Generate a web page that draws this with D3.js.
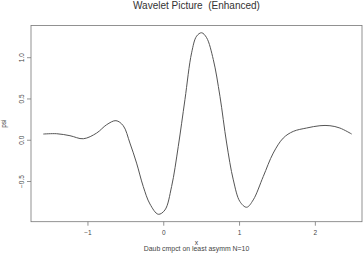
<!DOCTYPE html>
<html>
<head>
<meta charset="utf-8">
<script src="https://cdn.jsdelivr.net/npm/d3@7"></script>
<style>
  body { margin: 0; background: #fff; }
  svg { display: block; font-family: "Liberation Sans", Arial, sans-serif; }
  text { white-space: pre; }
</style>
</head>
<body>
<svg id="chart" width="364" height="261"></svg>
<script>
// wavelet curve
const xs = [-1.583, -1.407, -1.231, -1.055, -0.879, -0.747, -0.624, -0.528, -0.44, -0.352, -0.264, -0.176, -0.066, 0.022, 0.11, 0.198, 0.286, 0.374, 0.44, 0.506, 0.572, 0.66, 0.748, 0.836, 0.924, 1.012, 1.1, 1.187, 1.319, 1.451, 1.583, 1.715, 1.891, 2.067, 2.199, 2.33, 2.486];
const psi = [0.069, 0.073, 0.049, 0.012, 0.081, 0.182, 0.231, 0.17, -0.04, -0.283, -0.567, -0.778, -0.903, -0.851, -0.567, -0.081, 0.486, 1.053, 1.255, 1.296, 1.236, 0.972, 0.526, -0.04, -0.486, -0.75, -0.818, -0.729, -0.446, -0.162, 0.02, 0.101, 0.142, 0.17, 0.17, 0.142, 0.069];
const xTicks = [-1, 0, 1, 2];
const yTicks = [-0.5, 0.0, 0.5, 1.0];
const title = "Wavelet Picture  (Enhanced)";
const xLabel = "x";
const yLabel = "psi";
const subTitle = "Daub cmpct on least asymm N=10";

const svg = d3.select("#chart");
const box = {left: 31, right: 362, top: 25.5, bottom: 221.7};
const ink = "#444";

const x = d3.scaleLinear().domain([-1.745, 2.622]).range([box.left, box.right]);
const y = d3.scaleLinear().domain([-0.993, 1.384]).range([box.bottom, box.top]);

const data = xs.map((v, i) => ({x: v, y: psi[i]}));

// plot frame
svg.append("rect")
  .attr("x", box.left).attr("y", box.top)
  .attr("width", box.right - box.left).attr("height", box.bottom - box.top)
  .attr("fill", "none").attr("stroke", "#777").attr("stroke-width", 0.8);

// x axis
const gx = svg.append("g").attr("transform", `translate(0,${box.bottom})`)
  .call(d3.axisBottom(x).tickValues(xTicks).tickSize(4).tickPadding(5).tickFormat(d3.format("d")));
gx.select(".domain").remove();
gx.selectAll("line").attr("stroke", "#777").attr("stroke-width", 0.8);
gx.selectAll("text").attr("font-size", 6.5).attr("fill", ink).attr("font-family", null);

// y axis
const gy = svg.append("g").attr("transform", `translate(${box.left},0)`)
  .call(d3.axisLeft(y).tickValues(yTicks).tickSize(4).tickFormat(d3.format(".1f")));
gy.select(".domain").remove();
gy.selectAll("line").attr("stroke", "#777").attr("stroke-width", 0.8);
gy.selectAll("text")
  .attr("font-size", 6.5).attr("fill", ink).attr("font-family", null)
  .attr("text-anchor", "middle")
  .attr("x", 0).attr("y", 0)
  .attr("transform", "translate(-9,0) rotate(-90)")
  .attr("dy", "0.35em");

// curve
svg.append("path")
  .datum(data)
  .attr("fill", "none")
  .attr("stroke", "#555")
  .attr("stroke-width", 1)
  .attr("d", d3.line().x(d => x(d.x)).y(d => y(d.y)).curve(d3.curveCatmullRom.alpha(0.5)));

// titles
svg.append("text")
  .attr("x", (box.left + box.right) / 2).attr("y", 8.7)
  .attr("text-anchor", "middle").attr("font-size", 10).attr("fill", "#333")
  .text(title);
svg.append("text")
  .attr("x", (box.left + box.right) / 2).attr("y", 245)
  .attr("text-anchor", "middle").attr("font-size", 6.8).attr("fill", ink)
  .text(xLabel);
svg.append("text")
  .attr("x", (box.left + box.right) / 2).attr("y", 250.8)
  .attr("text-anchor", "middle").attr("font-size", 6.9).attr("fill", ink)
  .text(subTitle);
svg.append("text")
  .attr("transform", `translate(6,${(box.top + box.bottom) / 2}) rotate(-90)`)
  .attr("text-anchor", "middle").attr("font-size", 6.5).attr("fill", ink)
  .text(yLabel);
</script>
</body>
</html>
